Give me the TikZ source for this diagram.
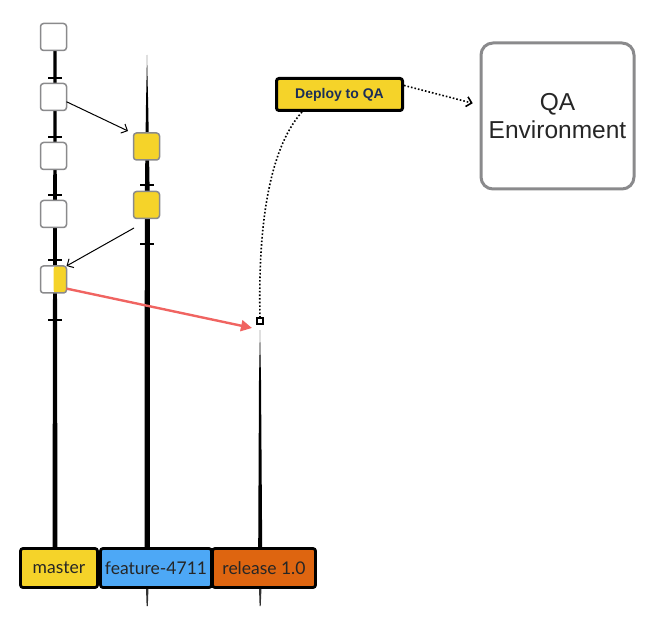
\documentclass[tikz,border=0pt]{standalone}
\usepackage{fontspec}
\setmainfont{Lato}
\newfontfamily\helv{Liberation Sans}
\usetikzlibrary{arrows.meta}
\definecolor{gityellow}{HTML}{F5D329}
\definecolor{gitblue}{HTML}{4DA8F6}
\definecolor{gitorange}{HTML}{DE6510}
\definecolor{boxgray}{HTML}{8A8A8C}
\definecolor{navy}{HTML}{1B2E58}
\definecolor{redarrow}{HTML}{F06461}
\tikzset{
  commit/.style={draw=boxgray, line width=1.5pt, rounded corners=3pt, minimum width=26pt, minimum height=27pt, inner sep=0pt, outer sep=0pt},
  fcommit/.style={commit, fill=gityellow},
  wcommit/.style={commit, fill=white},
  branchlbl/.style={draw=black, line width=2.8pt, rounded corners=2.5pt, minimum height=39pt, inner sep=0pt, outer sep=0pt, font=\fontsize{17.5}{21}\selectfont, text=black!85},
  tick/.style={line width=1.6pt, black},
  linkarrow/.style={line width=1pt, -{Straight Barb[length=5pt,width=10pt]}},
  dotarrow/.style={line width=1.6pt, dotted},
}
\begin{document}
\begin{tikzpicture}[x=1pt,y=-1pt]
\useasboundingbox (0,0) rectangle (653,620);
% branch lines
\fill[black] (53.5,50) -- (56.5,50) -- (57.5,548) -- (52.5,548) -- cycle;
\fill[black] (147,55) -- (148.3,110) -- (149.8,200) -- (149.8,548) -- (144.6,548) -- (144.8,200) -- (145.9,110) -- cycle;
\fill[black!80] (146,588) -- (148.5,588) -- (147.8,606) -- (146.6,606) -- cycle;
\fill[black] (260,330) -- (261,380) -- (262.2,548) -- (258.2,548) -- (259,380) -- cycle;
\fill[black!80] (259,588) -- (261.5,588) -- (260.7,606) -- (259.6,606) -- cycle;
% ticks
\foreach \y in {78,137,195,260,320} \draw[tick] (48,\y) -- (62,\y);
\foreach \y in {185,244} \draw[tick] (140,\y) -- (154,\y);
% commits
\node[wcommit] (c1) at (53.5,37) {};
\node[wcommit] (c2) at (53.5,97) {};
\node[wcommit] (c3) at (53.5,156) {};
\node[wcommit] (c4) at (53.5,214) {};
\node[wcommit, path picture={\fill[gityellow] (path picture bounding box.north) rectangle (path picture bounding box.south east);}] (c5) at (53.5,279.5) {};
\node[fcommit] (f1) at (146.5,146.5) {};
\node[fcommit] (f2) at (146.5,205) {};
% merge arrows
\coordinate (t1) at (128,131);
\draw[linkarrow] (c2.-20) -- (t1);
\coordinate (s2) at (134,228);
\draw[linkarrow] (s2) -- (c5.north east);
\coordinate (t3) at (252,328);
\draw[redarrow, line width=2.4pt, -{Triangle[length=11pt,width=11pt]}] (c5.-35) -- (t3);
% release point
\node[draw=black, line width=1.5pt, fill=white, minimum size=6pt, inner sep=0pt] (sq) at (260,321) {};
% deploy
\node[draw=black, line width=3pt, rounded corners=2.5pt, fill=gityellow, minimum width=126pt, minimum height=32pt, inner sep=0pt, font=\helv\bfseries\fontsize{14}{16}\selectfont, text=navy] (deploy) at (339.5,94.5) {Deploy to QA};
\node[draw=boxgray, line width=3pt, rounded corners=12pt, minimum width=153pt, minimum height=146pt, align=center, font=\helv\fontsize{24.5}{28}\selectfont, text=black!85] (qa) at (557.5,116) {QA\\Environment};
\draw[dotarrow] (deploy.205) .. controls (268,150) and (258,230) .. (sq.north);
\draw[dotarrow, shorten >=7pt, -{Straight Barb[length=5pt,width=10pt]}] (deploy.8) -- (qa.west |- 0,105);
% labels
\node[branchlbl, fill=gityellow, minimum width=77pt] (master) at (59,568) {master};
\node[branchlbl, fill=gitblue, minimum width=111pt] (feature) at (156,568) {feature-4711};
\node[branchlbl, fill=gitorange, minimum width=103pt] (release) at (264,568) {release 1.0};
\end{tikzpicture}
\end{document}
